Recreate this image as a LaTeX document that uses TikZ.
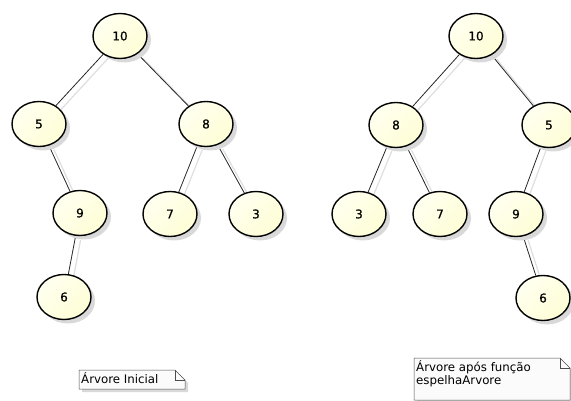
\documentclass[tikz,border=0pt]{standalone}
\usepackage{fontspec}
\setmainfont{DejaVu Sans}
\newfontfamily\numfont[FakeBold=0.7]{DejaVu Sans}
\usetikzlibrary{shapes.geometric,shadows,backgrounds}

\definecolor{nodefill}{RGB}{254,254,214}
\definecolor{nodelight}{RGB}{255,255,240}
\definecolor{notefill}{RGB}{251,251,251}
\definecolor{edgeshade}{RGB}{222,222,222}

\tikzset{
  tnode/.style={ellipse, draw=black, line width=1.4pt,
    left color=nodelight, right color=nodefill, shading angle=45,
    minimum width=54pt, minimum height=45pt, inner sep=0pt,
    font=\numfont\fontsize{12}{14}\selectfont,
    drop shadow={shadow xshift=4pt, shadow yshift=-4pt, fill=black!15, opacity=1}},
  tedge/.style={draw=black!85, line width=0.8pt},
  tedgeshade/.style={draw=edgeshade, line width=1.2pt, transform canvas={shift={(5pt,-4pt)}}},
  notetext/.style={font=\fontsize{11.8}{13.5}\selectfont, align=left, anchor=north west, inner sep=0pt},
  noteframe/.style={draw=black!70, line width=0.5pt, fill=notefill,
    drop shadow={shadow xshift=3pt, shadow yshift=-3pt, fill=black!15, opacity=1}},
}

\begin{document}
\begin{tikzpicture}[x=1pt,y=-1pt]
\useasboundingbox (0,0) rectangle (571,401);

% tree before mirroring
\node[tnode] (a10) at (120,36) {10};
\node[tnode] (a5)  at (39,124)  {5};
\node[tnode] (a8)  at (206,124) {8};
\node[tnode] (a9)  at (80,213)  {9};
\node[tnode] (a7)  at (170,214) {7};
\node[tnode] (a3)  at (256,214) {3};
\node[tnode] (a6)  at (64,297)  {6};

% tree after mirroring
\node[tnode] (b10) at (476,36)  {10};
\node[tnode] (b8)  at (396,125) {8};
\node[tnode] (b5)  at (549,125) {5};
\node[tnode] (b3)  at (359,214) {3};
\node[tnode] (b7)  at (440,214) {7};
\node[tnode] (b9)  at (516,214) {9};
\node[tnode] (b6)  at (543,298) {6};

\begin{scope}[on background layer]
  \foreach \p/\c in {a10/a5,a10/a8,a5/a9,a8/a7,a8/a3,a9/a6,
                     b10/b8,b10/b5,b8/b3,b8/b7,b5/b9,b9/b6} {
    \draw[tedgeshade] (\p) -- (\c);
    \draw[tedge] (\p) -- (\c);
  }
\end{scope}

% notes with folded corner
\draw[noteframe] (79,370) -- (175,370) -- (185,380) -- (185,389) -- (79,389) -- cycle;
\draw[black!70, line width=0.5pt] (175,370) -- (175,380) -- (185,380);
\node[notetext] (t1) at (81,372) {Árvore Inicial};

\draw[noteframe] (414,358) -- (560,358) -- (570,368) -- (570,400) -- (414,400) -- cycle;
\draw[black!70, line width=0.5pt] (560,358) -- (560,368) -- (570,368);
\node[notetext] (t2) at (416,360) {Árvore após função\\espelhaArvore};
\end{tikzpicture}
\end{document}
